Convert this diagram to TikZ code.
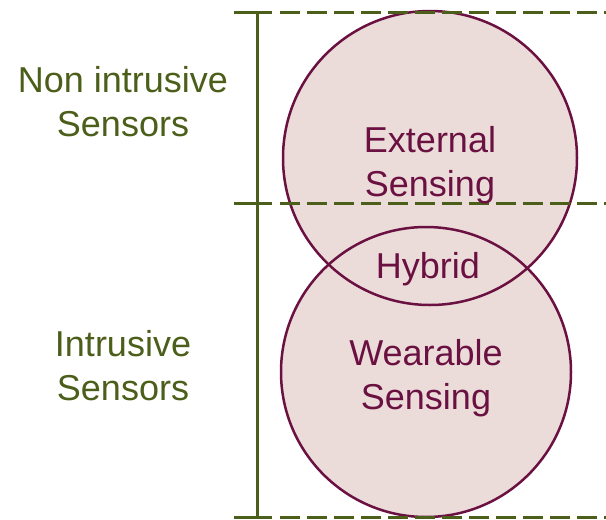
\documentclass[tikz,border=0pt]{standalone}
\usepackage{fontspec}
\setmainfont{Liberation Sans}
\usepackage{tikz}
\usetikzlibrary{calc}

\definecolor{zonefill}{HTML}{EBDCD9}
\definecolor{zoneline}{HTML}{6B1142}
\definecolor{olivo}{HTML}{4B5E1A}

\tikzset{
  zonetext/.style={text=zoneline, align=center, font=\fontsize{36}{44}\selectfont},
  sidetext/.style={text=olivo, align=center, font=\fontsize{36}{44}\selectfont},
  tick/.style={olivo, line width=3pt},
  level/.style={olivo, line width=3pt, dash pattern=on 20pt off 7pt}
}

\begin{document}
\begin{tikzpicture}[x=1pt, y=-1pt]
  \useasboundingbox (0,0) rectangle (606,520);
  \coordinate (ext) at (430,158); % centro externo
  \coordinate (wear) at (426,372); % centro wearable
  \fill [zonefill] (ext) circle (147);
  \fill [zonefill] (wear) circle (145);
  \draw [zoneline, line width=2.5pt] (ext) circle (147); % circulo superior
  \draw [zoneline, line width=2.5pt] (wear) circle (145); % circulo inferior
  % niveles
  \coordinate (top) at (257,12);
  \coordinate (mid) at (257,203);
  \coordinate (bot) at (257,517);
  \draw [tick] (top) -- (bot); % linea vertical
  \foreach \p in {top,mid,bot} {
    \draw [tick] ($(\p)+(-23,0)$) -- ($(\p)+(15,0)$);
    \draw [level] ($(\p)+(23,0)$) -- ($(\p)+(349,0)$);
  }
  \node [zonetext] (exttxt) at (430,165) {External\\Sensing};
  \node [zonetext] (hyb) at (428,269) {Hybrid};
  \node [zonetext] (weartxt) at (426,378) {Wearable\\Sensing};
  \node [sidetext] (nonintr) at (123,102) {Non intrusive\\Sensors};
  \node [sidetext] (intr) at (123,366) {Intrusive\\Sensors};
\end{tikzpicture}
\end{document}
